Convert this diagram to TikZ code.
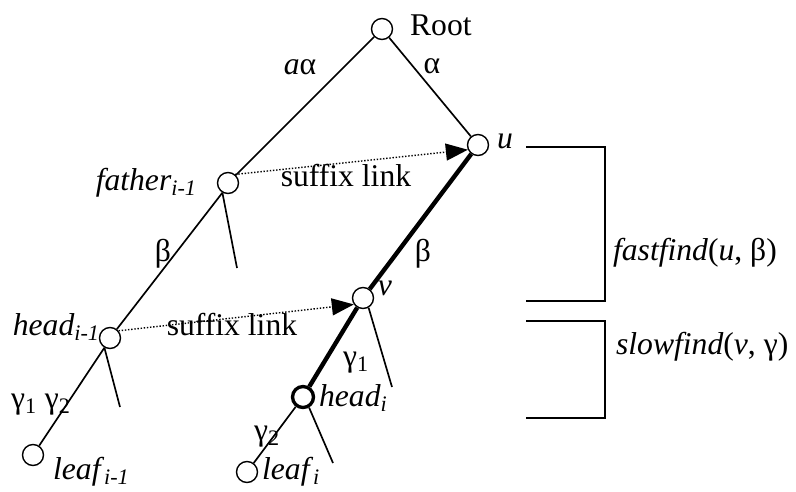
\documentclass[tikz,border=0pt]{standalone}
\usepackage{fontspec}
\setmainfont{Liberation Serif}
\usepackage{tikz}
\usetikzlibrary{arrows.meta}

\begin{document}
\begin{tikzpicture}[
    x=0.2mm, y=-0.2mm,
    font=\fontsize{18}{21}\selectfont,
    vtx/.style={draw, circle, line width=0.8pt, minimum size=4.2mm, inner sep=0pt, fill=white},
    bvtx/.style={vtx, line width=1.9pt},
    edge/.style={line width=0.95pt},
    thk/.style={line width=2.5pt},
    slink/.style={densely dotted, line width=0.8pt, -{Triangle[length=4.4mm, width=3.4mm]}},
    brk/.style={line width=1pt},
    lbl/.style={inner sep=1pt}
  ]
    \useasboundingbox (0,0) rectangle (796,491);

    % tree vertices
    \node[vtx]  (root)  at (382,29)  {};
    \node[vtx]  (u)     at (478,145) {};
    \node[vtx]  (father) at (228,183) {};
    \node[vtx]  (v)     at (363,298) {};
    \node[vtx]  (headp) at (110,338) {};
    \node[bvtx] (headi) at (303,397) {};
    \node[vtx]  (leafp) at (33,455)  {};
    \node[vtx]  (leafi) at (247,472) {};

    % free ends of the side branches
    \coordinate (fstub) at (237,268);
    \coordinate (hstub) at (120,407);
    \coordinate (vstub) at (392,387);
    \coordinate (istub) at (333,463);

    % vertex labels
    \node[lbl, anchor=west] (rootlbl)   at (408,25)  {Root};
    \node[lbl]              (ulbl)      at (505,141) {\textit{u}};
    \node[lbl, anchor=east] (fatherlbl) at (199,183) {\textit{father}\textsubscript{\textit{i-1}}};
    \node[lbl]              (vlbl)      at (385,288) {\textit{v}};
    \node[lbl, anchor=east] (headplbl)  at (102,327) {\textit{head}\textsubscript{\textit{i-1}}};
    \node[lbl, anchor=west] (headilbl)  at (317,398) {\textit{head}\textsubscript{\textit{i}}};
    \node[lbl, anchor=west] (leafplbl)  at (51,472)  {\textit{leaf}\textsubscript{\textit{i-1}}};
    \node[lbl, anchor=west] (leafilbl)  at (260,472) {\textit{leaf}\textsubscript{\textit{i}}};

    % edges
    \draw[edge] (root) -- (father);
    \draw[edge] (root) -- (u);
    \draw[edge] (father.240) -- (headp);
    \draw[edge] (father.240) -- (fstub);
    \draw[edge] (headp.240) -- (leafp);
    \draw[edge] (headp.240) -- (hstub);
    \draw[edge] (v.300) -- (vstub);
    \draw[edge] (headi) -- (leafi);
    \draw[edge] (headi.300) -- (istub);
    \draw[thk] (headi) -- (v);
    \draw[thk] (v) -- (u);

    % edge labels
    \node[lbl] (aalpha) at (300,67)  {\textit{a}α};
    \node[lbl] (alpha)  at (432,66)  {α};
    \node[lbl] (betal)  at (163,254) {β};
    \node[lbl] (betar)  at (423,254) {β};
    \node[lbl] (gamlr)  at (41,405)  {γ\textsubscript{1} γ\textsubscript{2}};
    \node[lbl] (gam1)   at (356,363) {γ\textsubscript{1}};
    \node[lbl] (gam2)   at (267,437) {γ\textsubscript{2}};

    % suffix links
    \draw[slink] (father.50) -- (u.205);
    \draw[slink] (headp.40) -- (v.215);
    \node[lbl] (slone) at (346,176) {suffix link};
    \node[lbl] (sltwo) at (232,325) {suffix link};

    % brackets
    \coordinate (fa) at (526,147);
    \coordinate (fb) at (605,147);
    \coordinate (fc) at (605,301);
    \coordinate (fd) at (526,301);
    \coordinate (sa) at (526,321);
    \coordinate (sb) at (605,321);
    \coordinate (sc) at (605,418);
    \coordinate (sd) at (526,418);
    \draw[brk] (fa) -- (fb) -- (fc) -- (fd);
    \draw[brk] (sa) -- (sb) -- (sc) -- (sd);
    \node[lbl, anchor=west] (fastf) at (611,253) {\textit{fastfind}(\textit{u}, β)};
    \node[lbl, anchor=west] (slowf) at (614,347) {\textit{slowfind}(\textit{v}, γ)};
  \end{tikzpicture}
\end{document}
